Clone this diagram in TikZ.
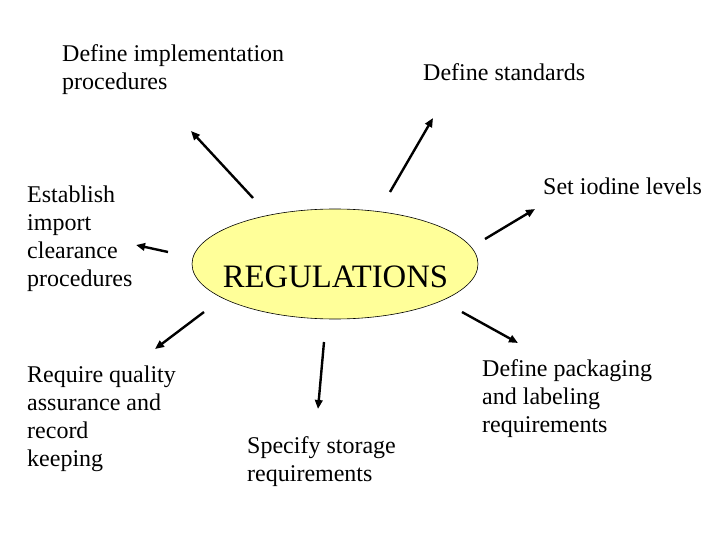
\documentclass[tikz,border=0pt]{standalone}
\usepackage{fontspec}
\setmainfont{Liberation Serif}
\usetikzlibrary{arrows.meta,shapes.geometric}
\definecolor{regfill}{RGB}{255,255,153}
\tikzset{
  lbl/.style={anchor=base west, inner sep=0pt, align=left, font=\fontsize{24}{28}\selectfont},
  arr/.style={line width=2.4pt, -{Triangle[length=9pt,width=7.5pt]}},
}
\begin{document}
\begin{tikzpicture}[x=1pt,y=-1pt]
\useasboundingbox (0,0) rectangle (720,540);
\node[ellipse, draw, fill=regfill, line width=0.6pt, minimum width=286pt, minimum height=110pt] (reg) at (335,264) {};
\node[anchor=base, inner sep=0pt, font=\fontsize{32.7}{36}\selectfont] (regt) at (335.5,287) {REGULATIONS};
% base anchor of a multi-line node = baseline of its last line
\node[lbl] (impl) at (62,90) {Define implementation\\procedures};
\node[lbl] (std) at (423,81) {Define standards};
\node[lbl] (iod) at (543,195) {Set iodine levels};
\node[lbl] (imp) at (27,286) {Establish\\import\\clearance\\procedures};
\node[lbl] (qa) at (27,466) {Require quality\\assurance and\\record\\keeping};
\node[lbl] (sto) at (247,481) {Specify storage\\requirements};
\node[lbl] (pack) at (482,432) {Define packaging\\and labeling\\requirements};
\coordinate (t1) at (253,198); \coordinate (h1) at (191,131);
\coordinate (t2) at (168,252); \coordinate (h2) at (136,245);
\coordinate (t3) at (390,192); \coordinate (h3) at (433,118);
\coordinate (t4) at (485,239); \coordinate (h4) at (535,209);
\coordinate (t5) at (204,312); \coordinate (h5) at (155,349);
\coordinate (t6) at (324,342); \coordinate (h6) at (318,409);
\coordinate (t7) at (462,312); \coordinate (h7) at (518,343);
\draw[arr] (t1) -- (h1);
\draw[arr] (t2) -- (h2);
\draw[arr] (t3) -- (h3);
\draw[arr] (t4) -- (h4);
\draw[arr] (t5) -- (h5);
\draw[arr] (t6) -- (h6);
\draw[arr] (t7) -- (h7);
\end{tikzpicture}
\end{document}
